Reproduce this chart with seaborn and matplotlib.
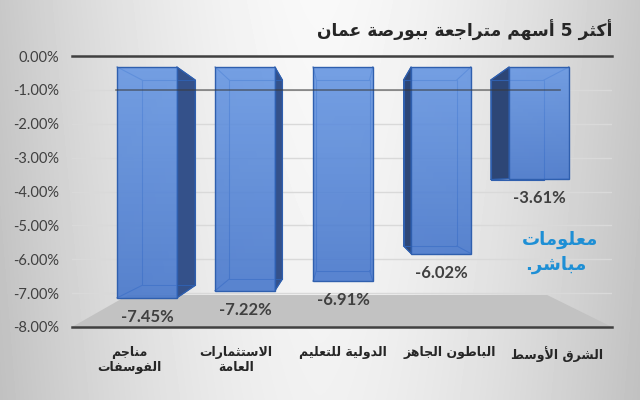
import numpy as np
import pandas as pd
import matplotlib
matplotlib.use("Agg")
import matplotlib.pyplot as plt
import seaborn as sns
from matplotlib.patches import Polygon
from matplotlib.colors import LinearSegmentedColormap
from matplotlib.transforms import blended_transform_factory

# ---------------- data ----------------
categories = ["مناجم الفوسفات", "الاستثمارات العامة", "الدولية للتعليم",
              "الباطون الجاهز", "الشرق الأوسط"]
tick_labels = ["مناجم\nالفوسفات", "الاستثمارات\nالعامة", "الدولية للتعليم",
               "الباطون الجاهز", "الشرق الأوسط"]
values = [-7.45, -7.22, -6.91, -6.02, -3.61]
y_ticks = [0, -1, -2, -3, -4, -5, -6, -7, -8]
title = "أكثر 5 أسهم متراجعة ببورصة عمان"
watermark = ["معلومات", "مباشر."]

# ---------------- minimal Arabic shaping (presentation forms + RTL) ----------------
_AR = {
    '\u0621': ('\ufe80',),
    '\u0622': ('\ufe81', '\ufe82'), '\u0623': ('\ufe83', '\ufe84'),
    '\u0624': ('\ufe85', '\ufe86'), '\u0625': ('\ufe87', '\ufe88'),
    '\u0626': ('\ufe89', '\ufe8a', '\ufe8b', '\ufe8c'),
    '\u0627': ('\ufe8d', '\ufe8e'),
    '\u0628': ('\ufe8f', '\ufe90', '\ufe91', '\ufe92'),
    '\u0629': ('\ufe93', '\ufe94'),
    '\u062a': ('\ufe95', '\ufe96', '\ufe97', '\ufe98'),
    '\u062b': ('\ufe99', '\ufe9a', '\ufe9b', '\ufe9c'),
    '\u062c': ('\ufe9d', '\ufe9e', '\ufe9f', '\ufea0'),
    '\u062d': ('\ufea1', '\ufea2', '\ufea3', '\ufea4'),
    '\u062e': ('\ufea5', '\ufea6', '\ufea7', '\ufea8'),
    '\u062f': ('\ufea9', '\ufeaa'), '\u0630': ('\ufeab', '\ufeac'),
    '\u0631': ('\ufead', '\ufeae'), '\u0632': ('\ufeaf', '\ufeb0'),
    '\u0633': ('\ufeb1', '\ufeb2', '\ufeb3', '\ufeb4'),
    '\u0634': ('\ufeb5', '\ufeb6', '\ufeb7', '\ufeb8'),
    '\u0635': ('\ufeb9', '\ufeba', '\ufebb', '\ufebc'),
    '\u0636': ('\ufebd', '\ufebe', '\ufebf', '\ufec0'),
    '\u0637': ('\ufec1', '\ufec2', '\ufec3', '\ufec4'),
    '\u0638': ('\ufec5', '\ufec6', '\ufec7', '\ufec8'),
    '\u0639': ('\ufec9', '\ufeca', '\ufecb', '\ufecc'),
    '\u063a': ('\ufecd', '\ufece', '\ufecf', '\ufed0'),
    '\u0641': ('\ufed1', '\ufed2', '\ufed3', '\ufed4'),
    '\u0642': ('\ufed5', '\ufed6', '\ufed7', '\ufed8'),
    '\u0643': ('\ufed9', '\ufeda', '\ufedb', '\ufedc'),
    '\u0644': ('\ufedd', '\ufede', '\ufedf', '\ufee0'),
    '\u0645': ('\ufee1', '\ufee2', '\ufee3', '\ufee4'),
    '\u0646': ('\ufee5', '\ufee6', '\ufee7', '\ufee8'),
    '\u0647': ('\ufee9', '\ufeea', '\ufeeb', '\ufeec'),
    '\u0648': ('\ufeed', '\ufeee'),
    '\u0649': ('\ufeef', '\ufef0'),
    '\u064a': ('\ufef1', '\ufef2', '\ufef3', '\ufef4'),
}
_LAM_ALEF = {'\u0622': ('\ufef5', '\ufef6'), '\u0623': ('\ufef7', '\ufef8'),
             '\u0625': ('\ufef9', '\ufefa'), '\u0627': ('\ufefb', '\ufefc')}


def _shape_line(s):
    res, prev_joins, i, n = [], False, 0, len(s)
    while i < n:
        c = s[i]
        if c in _AR:
            forms = _AR[c]
            if c == '\u0644' and i + 1 < n and s[i + 1] in _LAM_ALEF:
                lig = _LAM_ALEF[s[i + 1]]
                res.append(lig[1] if prev_joins else lig[0])
                prev_joins = False
                i += 2
                continue
            nxt = s[i + 1] if i + 1 < n else ''
            can_next = len(forms) == 4 and nxt in _AR
            if prev_joins and can_next:
                f = forms[3]
            elif prev_joins:
                f = forms[1] if len(forms) > 1 else forms[0]
            elif can_next:
                f = forms[2]
            else:
                f = forms[0]
            res.append(f)
            prev_joins = len(forms) == 4
        else:
            res.append(c)
            prev_joins = False
        i += 1
    return ''.join(reversed(res))


def ar(s):
    return '\n'.join(_shape_line(line) for line in s.split('\n'))


# ---------------- figure ----------------
fig = plt.figure(figsize=(6.4, 4.0), dpi=100)

# background gradient
bg = fig.add_axes([0, 0, 1, 1], zorder=-10)
X, Y = np.meshgrid(np.linspace(-1, 1, 640), np.linspace(0, 1, 400))
G = 0.975 - 0.19 * np.abs(X) ** 1.6 - 0.03 * Y
bg.imshow(G, cmap="gray", vmin=0, vmax=1, aspect="auto", extent=[0, 1, 0, 1], origin="upper")
bg.axis("off")

box = [72 / 640, 1 - 327 / 400, 540 / 640, 271 / 400]

# main axes: value scale, gridlines, floor, category labels
ax = fig.add_axes(box, zorder=0)
ax.patch.set_alpha(0)
ax.set_ylim(-8, 0)
ax.set_xlim(-0.533, 4.514)
ax.set_yticks(y_ticks)
ax.set_yticklabels([f"{t:.2f}%" for t in y_ticks], fontfamily="Lato", fontsize=10.5, color="#404040")
ax.set_xticks(range(len(tick_labels)))
ax.set_xticklabels([ar(t) for t in tick_labels], fontfamily="DejaVu Sans", fontweight="bold",
                   fontsize=9, color="#262626", linespacing=1.2)
ax.tick_params(axis="y", length=0, pad=9)
ax.tick_params(axis="x", length=0, pad=14)
ax.grid(axis="y", color="#d9d9d9", lw=1)
ax.set_axisbelow(True)
for side in ("left", "right"):
    ax.spines[side].set_visible(False)
for side in ("top", "bottom"):
    ax.spines[side].set_color("#404040")
    ax.spines[side].set_linewidth(1.8)
floor = Polygon([(0, 0), (0.104, 0.118), (0.88, 0.118), (1.0, 0)], closed=True,
                transform=ax.transAxes, facecolor="#c2c2c2", edgecolor="none", zorder=1)
ax.add_patch(floor)

# bar axes (front plane of the 3-D box)
axb = fig.add_axes(box, zorder=1)
axb.patch.set_alpha(0)
df = pd.DataFrame({"name": categories, "value": values})
sns.barplot(data=df, x="name", y="value", ax=axb, color="#5b8bd8", saturation=1,
            width=0.61, edgecolor="#2f5fae", linewidth=1.0)
XLIM_B, YLIM_B = (-0.765, 4.745), (-8.39, 0.355)

face_cmap = LinearSegmentedColormap.from_list("face", ["#4878cc", "#6696e2"])
grad = np.linspace(0, 1, 64).reshape(-1, 1)
vx, vy, s = (len(values) - 1) / 2, -3.8, 0.89
for p in list(axb.patches):
    x0 = p.get_x(); x1 = x0 + p.get_width()
    ya = p.get_y(); yb = ya + p.get_height()
    bx0, bx1 = vx + s * (x0 - vx), vx + s * (x1 - vx)
    bya, byb = vy + s * (ya - vy), vy + s * (yb - vy)
    if bx1 > x1:
        axb.add_patch(Polygon([(x1, ya), (bx1, bya), (bx1, byb), (x1, yb)], closed=True,
                              facecolor="#34518a", edgecolor="#2f5fae", lw=0.8, zorder=2))
    if bx0 < x0:
        axb.add_patch(Polygon([(x0, ya), (bx0, bya), (bx0, byb), (x0, yb)], closed=True,
                              facecolor="#2d4676", edgecolor="#2f5fae", lw=0.8, zorder=2))
    wire = dict(color="#2f5fae", lw=0.8, zorder=2.5)
    axb.plot([bx0, bx1, bx1, bx0, bx0], [bya, bya, byb, byb, bya], **wire)
    for (fx, fy, gx, gy) in [(x0, ya, bx0, bya), (x1, ya, bx1, bya), (x0, yb, bx0, byb), (x1, yb, bx1, byb)]:
        axb.plot([fx, gx], [fy, gy], **wire)
    im = axb.imshow(grad, extent=[x0, x1, yb, ya], cmap=face_cmap, aspect="auto",
                    origin="lower", alpha=0.9, zorder=2.9)
    im.set_clip_path(p)
    p.set_facecolor("none")
    p.set_zorder(3)

axb.set_xlim(*XLIM_B)
axb.set_ylim(*YLIM_B)
axb.axis("off")

# darker back-wall line at -1 %
axb.plot([0.081, 0.904], [-1, -1], transform=blended_transform_factory(axb.transAxes, ax.transData),
         color="#3a3a3a", lw=1.2, alpha=0.6, zorder=4)

axb.bar_label(axb.containers[0], labels=[f"{v:.2f}%" for v in values], padding=8,
              fontsize=12, fontweight="bold", color="#404040", fontfamily="Lato")

# title and watermark
fig.text(612 / 640, 1 - 30 / 400, ar(title), ha="right", va="center", fontsize=12.3,
         fontweight="bold", color="#262626", fontfamily="DejaVu Sans")
fig.text(560 / 640, 1 - 240 / 400, ar(watermark[0]), ha="center", va="center", fontsize=13,
         fontweight="bold", color="#1e8fd5", fontfamily="DejaVu Sans")
fig.text(556 / 640, 1 - 265 / 400, ar(watermark[1]), ha="center", va="center", fontsize=13,
         fontweight="bold", color="#1e8fd5", fontfamily="DejaVu Sans")

fig.savefig("out.png", dpi=100)
